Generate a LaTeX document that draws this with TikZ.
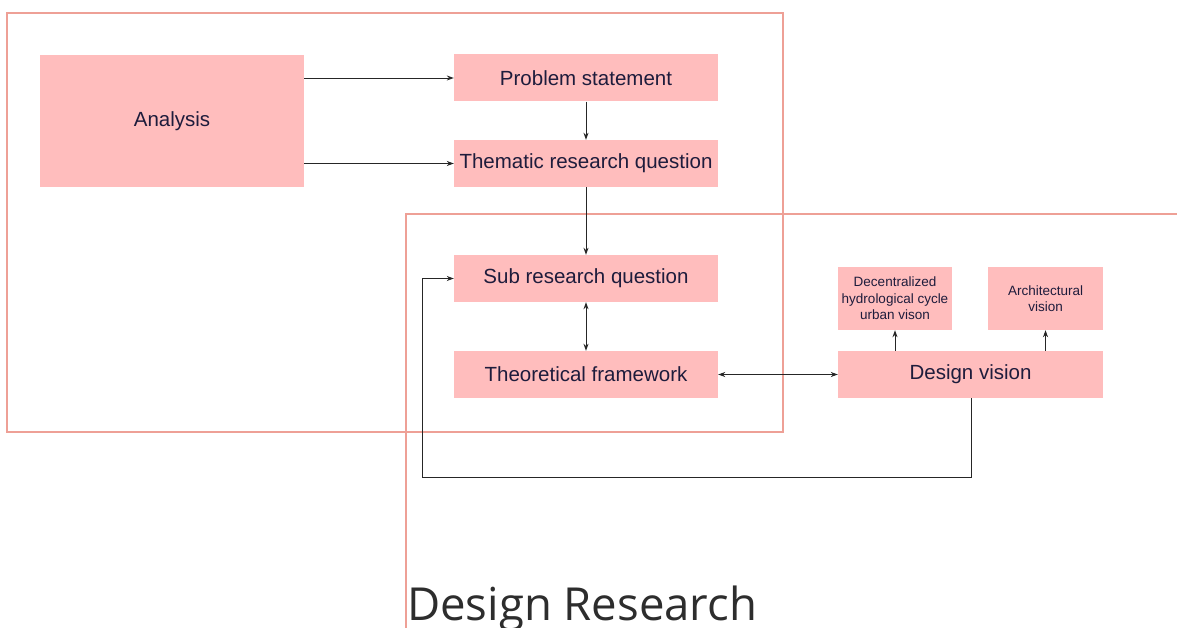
\documentclass[tikz,border=0pt]{standalone}
\usepackage{fontspec}
\setmainfont{Liberation Sans}
\newfontfamily\titlefont{Open Sans}
\usetikzlibrary{arrows.meta}
\definecolor{boxfill}{RGB}{255,189,189}
\definecolor{frameline}{RGB}{238,160,150}
\definecolor{boxtext}{RGB}{30,28,60}
\definecolor{titletext}{RGB}{45,45,45}
\tikzset{
  stepbox/.style={fill=boxfill, draw=none, inner sep=0pt, text=boxtext,
    font=\fontsize{20.5}{24}\selectfont, align=center},
  smallbox/.style={fill=boxfill, draw=none, inner sep=0pt, text=boxtext,
    font=\fontsize{13.5}{16.5}\selectfont, align=center},
  frame/.style={draw=frameline, line width=1.4pt},
  link/.style={draw=black!85, line width=0.9pt, -{Stealth[length=7pt,width=5pt]}},
  dlink/.style={draw=black!85, line width=0.9pt, {Stealth[length=7pt,width=5pt]}-{Stealth[length=7pt,width=5pt]}}
}
\begin{document}
\begin{tikzpicture}[x=1pt,y=-1pt]
\useasboundingbox (0,0) rectangle (1177,628);
% group frames
\draw[frame] (7,13) rectangle (783,432);
\draw[frame] (1180,214) -- (406,214) -- (406,632);
% boxes
\node[stepbox, minimum width=264pt, minimum height=132pt] (analysis) at (172,121) {Analysis};
\node[stepbox, minimum width=264pt, minimum height=47pt] (problem) at (586,78) {Problem statement};
\node[stepbox, minimum width=264pt, minimum height=47pt] (thematic) at (586,163.5) {Thematic research question};
\node[stepbox, minimum width=264pt, minimum height=47pt] (sub) at (586,278.5) {Sub research question};
\node[stepbox, minimum width=264pt, minimum height=47pt] (theory) at (586,374.5) {Theoretical framework};
\node[stepbox, minimum width=265pt, minimum height=47pt] (vision) at (970.5,374.5) {Design vision};
\node[smallbox, minimum width=114pt, minimum height=63pt] (urban) at (895,298.5) {Decentralized\\hydrological cycle\\urban vison};
\node[smallbox, minimum width=115pt, minimum height=63pt] (arch) at (1045.5,298.5) {Architectural\\vision};
\coordinate (loopA) at (971,477);
\coordinate (loopB) at (422,477);
\coordinate (loopC) at (422,278.5);
% connectors
\draw[link] (analysis.east |- problem) -- (problem.west);
\draw[link] (analysis.east |- thematic) -- (thematic.west);
\draw[link] (problem) -- (thematic);
\draw[link] (thematic) -- (sub);
\draw[dlink] (sub) -- (theory);
\draw[dlink] (theory) -- (vision);
\draw[link] (vision.north -| urban) -- (urban.south);
\draw[link] (vision.north -| arch) -- (arch.south);
\draw[link] (vision.south -| loopA) -- (loopA) -- (loopB) -- (loopC) -- (sub.west);
% title
\node[anchor=base west, inner sep=0pt, text=titletext, font=\titlefont\fontsize{45.5}{54}\selectfont] (title) at (407,620) {Design Research};
\end{tikzpicture}
\end{document}
